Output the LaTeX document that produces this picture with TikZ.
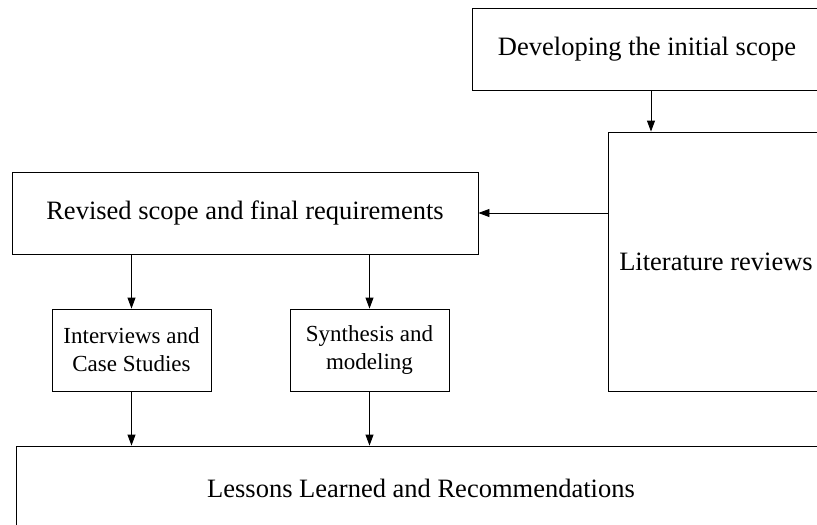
\documentclass[tikz,border=0pt]{standalone}
\usepackage{fontspec}
\setmainfont{Liberation Serif}
\usetikzlibrary{arrows.meta}
\tikzset{
  box/.style={draw, line width=0.9pt, inner sep=0pt, anchor=center,
    font=\fontsize{26.5}{30}\selectfont},
  smallbox/.style={box, align=center, font=\fontsize{23}{28}\selectfont},
  arr/.style={line width=0.9pt, -{Triangle[length=11pt,width=8pt]}}
}
\begin{document}
\begin{tikzpicture}[x=1pt,y=-1pt]
\useasboundingbox (0,0) rectangle (817,525);
\clip (0,0) rectangle (817,525);
\node[box, minimum width=350pt, minimum height=82pt] (dev) at (647,49) {Developing the initial scope};
\node[box, minimum width=216pt, minimum height=259pt] (lit) at (716,261.5) {Literature reviews};
\node[box, minimum width=466pt, minimum height=82pt] (rev) at (245,213) {Revised scope and final requirements};
\node[smallbox, minimum width=159pt, minimum height=82pt] (int) at (131.5,350) {Interviews and\\Case Studies};
\node[smallbox, minimum width=159pt, minimum height=82pt] (syn) at (369.5,350) {Synthesis and\\modeling};
\node[box, minimum width=810pt, minimum height=84pt] (les) at (421,488) {Lessons Learned and Recommendations};
\coordinate (c1) at (651,0);
\draw[arr] (c1 |- dev.south) -- (c1 |- lit.north);
\draw[arr] (lit.west |- rev.east) -- (rev.east);
\draw[arr] (int.north |- rev.south) -- (int.north);
\draw[arr] (syn.north |- rev.south) -- (syn.north);
\draw[arr] (int.south) -- (int.south |- les.north);
\draw[arr] (syn.south) -- (syn.south |- les.north);
\end{tikzpicture}
\end{document}
